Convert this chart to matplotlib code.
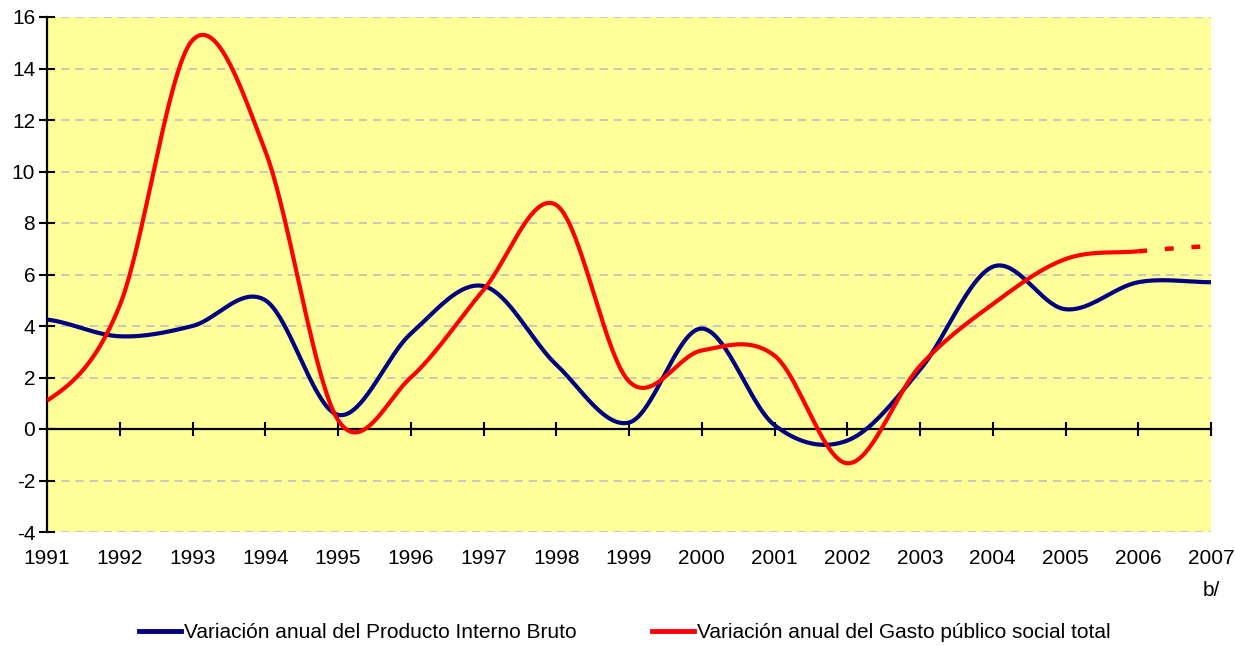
import numpy as np
import matplotlib
matplotlib.use('Agg')
import matplotlib.pyplot as plt
from matplotlib.lines import Line2D

plt.rcParams['font.family'] = ['Liberation Sans', 'DejaVu Sans']
plt.rcParams['axes.unicode_minus'] = False

years = list(range(1991, 2008))
year_labels = [str(y) for y in years[:-1]] + ['2007\nb/']
pib = [4.25, 3.6, 4.0, 5.0, 0.55, 3.7, 5.55, 2.5, 0.25, 3.9, 0.15, -0.45, 2.3, 6.3, 4.65, 5.7, 5.7]
gasto = [1.1, 4.8, 15.1, 10.8, 0.35, 2.0, 5.4, 8.7, 1.85, 3.05, 2.85, -1.33, 2.45, 4.85, 6.6, 6.9, 7.1]
y_ticks = list(range(-4, 17, 2))

label_pib = 'Variación anual del Producto Interno Bruto'
label_gasto = 'Variación anual del Gasto público social total'


def smooth(x, y, n=40):
    # Excel-style smoothed line (uniform Catmull-Rom)
    x = np.asarray(x, float)
    y = np.asarray(y, float)
    py = np.concatenate([[y[0]], y, [y[-1]]])
    xs, ys, seg = [], [], []
    t = np.linspace(0, 1, n)
    for i in range(len(x) - 1):
        p0, p1, p2, p3 = py[i], py[i + 1], py[i + 2], py[i + 3]
        m1 = (p2 - p0) / 2
        m2 = (p3 - p1) / 2
        h00 = 2 * t**3 - 3 * t**2 + 1
        h10 = t**3 - 2 * t**2 + t
        h01 = -2 * t**3 + 3 * t**2
        h11 = t**3 - t**2
        xs.append(x[i] + t * (x[i + 1] - x[i]))
        ys.append(h00 * p1 + h10 * m1 + h01 * p2 + h11 * m2)
        seg.append(np.full(n, i))
    return np.concatenate(xs), np.concatenate(ys), np.concatenate(seg)


fig = plt.figure(figsize=(12.35, 6.46), dpi=100)
ax = fig.add_axes([47 / 1235, 1 - 532 / 646, (1211 - 47) / 1235, (532 - 17) / 646])
ax.set_facecolor('#FFFF99')

for v in y_ticks:
    if v != 0:
        ax.axhline(v, color='#C0C0C0', lw=1.2, ls=(0, (5, 3.5)), zorder=1)

xb, yb, _ = smooth(years, pib)
ax.plot(xb, yb, color='#000080', lw=3, zorder=3, solid_capstyle='butt')

xr, yr, sr = smooth(years, gasto)
last = len(years) - 2
ax.plot(xr[sr < last], yr[sr < last], color='#FF0000', lw=3, zorder=4, solid_capstyle='butt')
ax.plot(xr[sr == last], yr[sr == last], color='#FF0000', lw=3.2, zorder=4,
        ls=(0, (2, 4)), dash_capstyle='butt')

ax.set_xlim(1991, 2007)
ax.set_ylim(-4, 16)
ax.set_yticks(y_ticks)
ax.tick_params(axis='y', direction='inout', length=11, width=1.5, labelsize=15, pad=3)

ax.spines['top'].set_visible(False)
ax.spines['right'].set_visible(False)
ax.spines['left'].set_linewidth(1.6)
ax.spines['bottom'].set_position(('data', 0))
ax.spines['bottom'].set_linewidth(1.6)
ax.spines['bottom'].set_zorder(2)
ax.set_xticks(years)
ax.tick_params(axis='x', direction='inout', length=10, width=1.5, labelbottom=False)

sec = ax.secondary_xaxis('bottom')
sec.set_xticks(years, year_labels)
sec.tick_params(length=0, pad=12, labelsize=15)
sec.spines['bottom'].set_visible(False)
for lab in sec.get_xticklabels():
    lab.set_linespacing(1.9)

handles = [Line2D([], [], color='#000080', lw=3.5), Line2D([], [], color='#FF0000', lw=3.5)]
fig.legend(handles, [label_pib, label_gasto], loc='center', bbox_to_anchor=(0.506, 1 - 633 / 646),
           ncol=2, frameon=False, fontsize=15, handlelength=2.0, handletextpad=0.15,
           columnspacing=3.6)

fig.savefig('out.png', dpi=100)
